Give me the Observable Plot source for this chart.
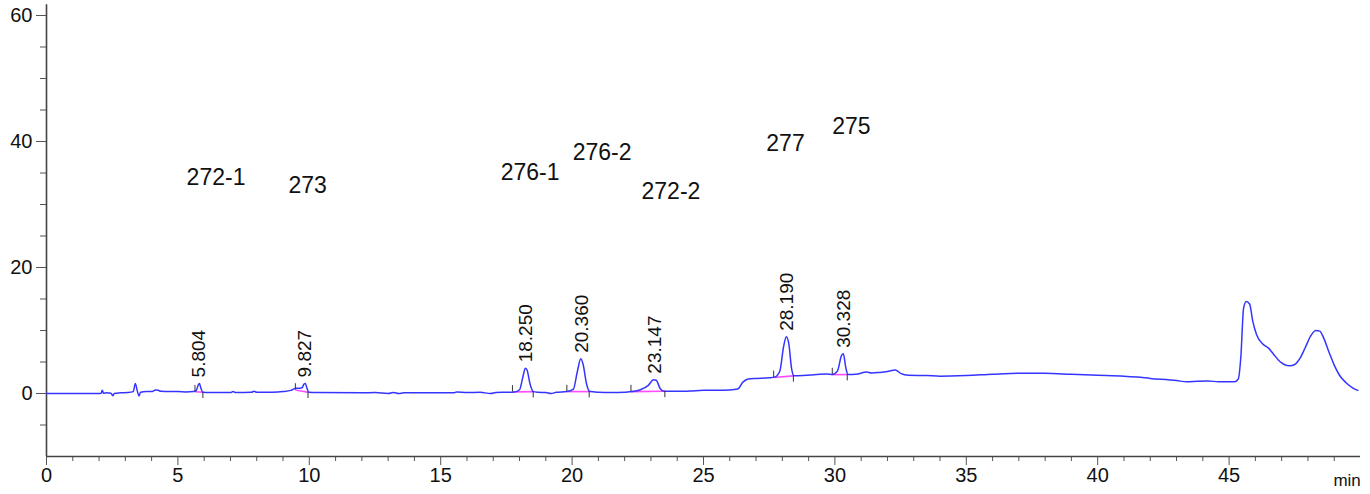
<!DOCTYPE html>
<html>
<head>
<meta charset="utf-8">
<script src="https://cdn.jsdelivr.net/npm/d3@7"></script>
<script src="https://cdn.jsdelivr.net/npm/@observablehq/plot@0.6"></script>
<style>
  html, body { margin: 0; padding: 0; background: #fff; }
  #chart { width: 1370px; height: 494px; overflow: hidden; }
</style>
</head>
<body>
<div id="chart"></div>
<script>
// Chromatogram trace (time in min, signal)
const traceTime = [0, 1.0, 2.0, 2.08, 2.12, 2.17, 2.3, 2.45, 2.52, 2.58, 2.8, 3.1, 3.3, 3.38, 3.45, 3.52, 3.58, 3.8, 4.0, 4.15, 4.25, 4.35, 4.7, 5.0, 5.3, 5.6, 5.7, 5.78, 5.82, 5.87, 5.95, 6.2, 7.0, 7.1, 7.2, 7.8, 7.9, 8.0, 8.6, 9.0, 9.3, 9.5, 9.65, 9.72, 9.8, 9.85, 9.9, 9.98, 10.3, 12.0, 12.5, 13.0, 13.2, 13.4, 13.6, 15.0, 15.5, 15.6, 16.0, 16.5, 16.9, 17.1, 17.5, 17.8, 18.0, 18.12, 18.22, 18.28, 18.4, 18.52, 18.7, 19.0, 19.2, 19.4, 19.8, 20.05, 20.2, 20.33, 20.42, 20.55, 20.68, 21.0, 21.5, 22.0, 22.3, 22.6, 22.9, 23.1, 23.2, 23.35, 23.5, 24.0, 24.5, 25.0, 25.5, 26.0, 26.3, 26.5, 26.7, 27.0, 27.5, 27.7, 27.9, 28.05, 28.15, 28.25, 28.35, 28.45, 28.8, 29.3, 29.7, 29.9, 30.1, 30.25, 30.32, 30.42, 30.5, 30.8, 31.2, 31.4, 31.7, 32.0, 32.3, 32.5, 32.8, 33.5, 34.0, 35.0, 36.0, 37.0, 38.0, 39.0, 40.0, 41.0, 41.5, 42.0, 43.0, 43.4, 43.8, 44.2, 44.6, 45.2, 45.35, 45.45, 45.55, 45.65, 45.78, 45.9, 46.05, 46.3, 46.5, 46.7, 46.9, 47.1, 47.3, 47.5, 47.7, 47.9, 48.1, 48.3, 48.45, 48.6, 48.8, 49.0, 49.2, 49.45, 49.7, 49.9];
const traceSignal = [0, 0, 0, 0.05, 0.5, 0.05, 0.1, 0.05, -0.35, 0.0, 0.1, 0.15, 0.3, 1.6, 0.5, -0.4, 0.2, 0.3, 0.3, 0.55, 0.5, 0.35, 0.3, 0.3, 0.25, 0.3, 0.5, 1.4, 1.6, 0.9, 0.2, 0.15, 0.15, 0.3, 0.15, 0.2, 0.35, 0.2, 0.2, 0.3, 0.5, 0.85, 0.85, 0.9, 1.5, 1.6, 1.0, 0.2, 0.15, 0.1, 0.15, 0.0, 0.15, 0.0, 0.1, 0.1, 0.1, 0.25, 0.15, 0.2, 0.0, 0.15, 0.2, 0.25, 0.6, 2.5, 4.0, 3.8, 1.5, 0.3, 0.2, 0.15, 0.0, 0.2, 0.3, 0.7, 3.5, 5.5, 4.6, 1.5, 0.3, 0.2, 0.15, 0.2, 0.3, 0.6, 1.3, 2.2, 2.1, 0.8, 0.35, 0.35, 0.4, 0.5, 0.5, 0.55, 0.7, 1.8, 2.3, 2.4, 2.5, 2.6, 3.5, 7.5, 9.0, 7.8, 4.0, 2.8, 2.85, 3.0, 3.1, 3.0, 3.6, 6.0, 6.3, 4.0, 3.0, 3.05, 3.4, 3.25, 3.35, 3.5, 3.75, 3.2, 2.9, 2.85, 2.75, 2.85, 3.05, 3.2, 3.2, 3.05, 2.9, 2.75, 2.6, 2.4, 2.05, 1.85, 1.95, 2.0, 1.85, 1.85, 2.3, 6.0, 13.5, 14.6, 14.2, 11.5, 9.3, 7.8, 7.2, 6.2, 5.2, 4.6, 4.4, 4.6, 5.6, 7.3, 9.1, 10.0, 9.9, 8.8, 6.6, 4.5, 2.9, 1.7, 0.9, 0.5];

// Integrated peaks
const peakRT = [5.804, 9.827, 18.250, 20.360, 23.147, 28.190, 30.328];
const peakLabel = ["5.804", "9.827", "18.250", "20.360", "23.147", "28.190", "30.328"];
const peakHeight = [1.6, 1.6, 4.0, 5.5, 2.2, 9.0, 6.3];
const peakStart = [5.65, 9.47, 17.73, 19.8, 22.24, 27.67, 29.9];
const peakEnd = [5.95, 9.95, 18.52, 20.65, 23.53, 28.42, 30.47];
const baseStart = [0.28, 0.55, 0.25, 0.3, 0.3, 2.55, 3.0];
const baseEnd = [0.2, 0.2, 0.3, 0.3, 0.35, 2.8, 3.0];

// Compound names
const compoundName = ["272-1", "273", "276-1", "276-2", "272-2", "277", "275"];
const compoundX = [6.45, 9.94, 18.4, 21.14, 23.76, 28.12, 30.63];
const compoundY = [34.3, 33.0, 35.1, 38.3, 32.1, 39.7, 42.4];

// Axis ticks
const xMajor = [0, 5, 10, 15, 20, 25, 30, 35, 40, 45];
const xMinor = d3.range(0, 50).filter(v => v % 5 !== 0);
const yMajor = [0, 20, 40, 60];
const yMinor = [-5, 5, 10, 15, 25, 30, 35, 45, 50, 55];
const xUnit = "min";

const trace = traceTime.map((t, i) => ({t, v: traceSignal[i]}));
const peaks = peakRT.map((rt, i) => ({
  rt, label: peakLabel[i], h: peakHeight[i],
  s: peakStart[i], e: peakEnd[i], bs: baseStart[i], be: baseEnd[i]
}));
const compounds = compoundName.map((name, i) => ({name, x: compoundX[i], y: compoundY[i]}));

const chart = Plot.plot({
  width: 1370,
  height: 494,
  marginLeft: 46,
  marginRight: 10,
  marginTop: 15,
  marginBottom: 38,
  x: {domain: [0, 50]},
  y: {domain: [-10, 60]},
  style: {fontFamily: "'Liberation Sans', Arial, sans-serif", color: "#111", background: "#fff"},
  marks: [
    Plot.axisX({ticks: xMajor, tickSize: 9, tickPadding: 2, fontSize: 20, label: null, stroke: "#555"}),
    Plot.axisX({ticks: xMinor, tickSize: 5, text: null, label: null, stroke: "#555"}),
    Plot.axisY({ticks: yMajor, tickSize: 10, tickPadding: 4, fontSize: 20, label: null, stroke: "#555"}),
    Plot.axisY({ticks: yMinor, tickSize: 6, text: null, label: null, stroke: "#555"}),
    Plot.ruleY([-10], {stroke: "#444", strokeWidth: 1.6}),
    Plot.ruleX([0], {y1: -10, y2: 61.7, stroke: "#444", strokeWidth: 1.6}),
    Plot.link(peaks, {x1: "s", y1: "bs", x2: "e", y2: "be", stroke: "#ff4cff", strokeWidth: 1.6}),
    Plot.line(trace, {x: "t", y: "v", stroke: "#3535ff", strokeWidth: 1.5, curve: "monotone-x"}),
    Plot.ruleX(peaks, {x: "s", y1: "bs", y2: d => d.bs + 1, stroke: "#333", strokeWidth: 1}),
    Plot.ruleX(peaks, {x: "e", y1: d => d.be - 1, y2: "be", stroke: "#333", strokeWidth: 1}),
    Plot.text(peaks, {x: "rt", y: "h", text: "label", rotate: -90, textAnchor: "start", dy: -6, fontSize: 19, fill: "#111"}),
    Plot.text(compounds, {x: "x", y: "y", text: "name", fontSize: 23, fill: "#111"}),
    Plot.text([xUnit], {x: 48.97, y: -10, dy: 24, text: d => d, textAnchor: "start", fontSize: 17, fill: "#111"})
  ]
});
document.getElementById("chart").appendChild(chart);
</script>
</body>
</html>
